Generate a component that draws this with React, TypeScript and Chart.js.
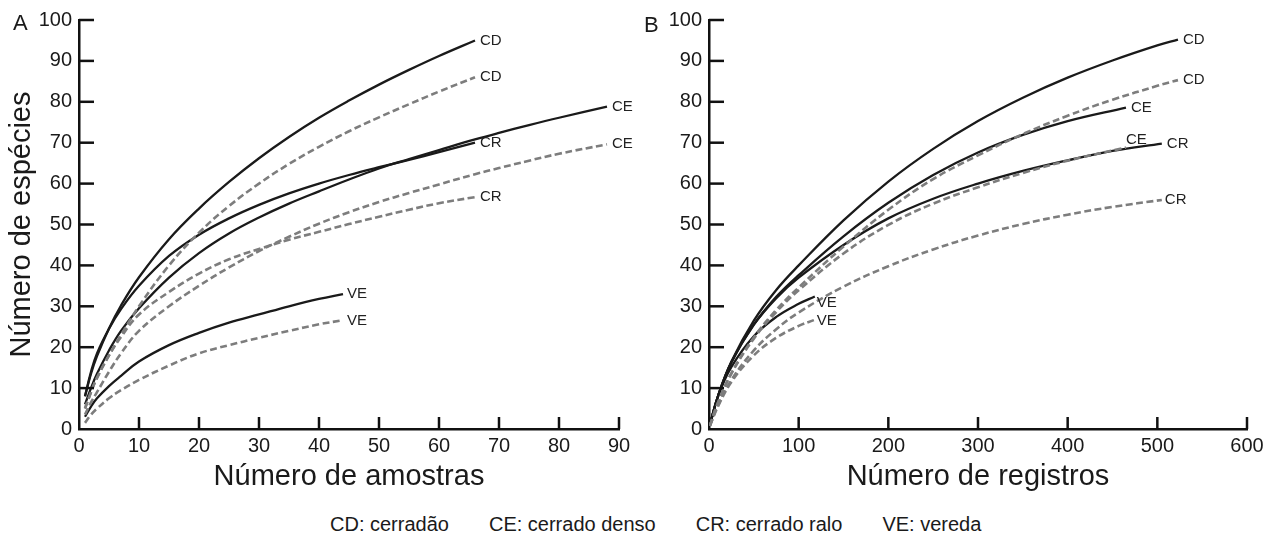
import React, { useEffect, useRef } from "react";
import { Chart, registerables } from "chart.js";

Chart.register(...registerables);

const FONT = '"Liberation Sans", Arial, Helvetica, sans-serif';

// ---------- Panel A: Número de amostras ----------
const aX66 = [1, 2, 3, 5, 7, 10, 15, 20, 25, 30, 35, 40, 45, 50, 55, 60, 66];
const aX88 = [1, 2, 3, 5, 7, 10, 15, 20, 25, 30, 35, 40, 45, 50, 55, 60, 66, 70, 75, 80, 88];
const aX44 = [1, 2, 3, 5, 7, 10, 15, 20, 25, 30, 35, 40, 44];

const aSolidCD = [8, 13.5, 17.8, 24.6, 30.2, 37.1, 46.4, 53.9, 60.4, 66.2, 71.4, 76.1, 80.3, 84.2, 87.8, 91.2, 95];
const aDashCD = [5, 9, 12.5, 18, 23, 30, 40, 48, 54.5, 60, 64.8, 69, 72.8, 76.2, 79.4, 82.5, 86];
const aSolidCR = [8, 14, 18.5, 24.5, 29.3, 35, 42.3, 47.5, 51.5, 54.8, 57.6, 60, 62.1, 64, 65.8, 67.7, 70];
const aDashCR = [5, 9, 12.5, 18, 22.5, 28, 33.5, 38, 41.5, 44, 46.3, 48.2, 50.1, 51.9, 53.6, 55.2, 56.7];
const aSolidCE = [6, 10, 13.5, 19.2, 24, 29.5, 37, 43, 47.8, 51.7, 55.1, 58.1, 61, 63.7, 66, 68.2, 70.8, 72.4, 74.3, 76.1, 78.8];
const aDashCE = [3.5, 6.5, 9, 14, 18.5, 24, 30, 35, 39.5, 43.5, 47, 50.2, 53, 55.5, 57.7, 59.8, 62.3, 63.8, 65.6, 67.3, 69.6];
const aSolidVE = [3, 5.5, 7.5, 10.5, 13, 16.5, 20.5, 23.5, 26, 28, 30, 31.8, 33];
const aDashVE = [1.5, 3.5, 5, 7.5, 9.5, 12, 15.5, 18.5, 20.5, 22.3, 24, 25.6, 26.6];

// ---------- Panel B: Número de registros ----------
const bX523 = [1, 10, 25, 50, 75, 100, 150, 200, 250, 300, 350, 400, 450, 500, 523];
const bX465 = [1, 10, 25, 50, 75, 100, 150, 200, 250, 300, 350, 400, 465];
const bX505 = [1, 10, 25, 50, 75, 100, 150, 200, 250, 300, 350, 400, 450, 505];
const bX118 = [1, 10, 25, 50, 75, 100, 118];

const bSolidCD = [1, 8, 16.5, 26.5, 34, 40, 51, 60.5, 68.5, 75.3, 81, 85.9, 90.1, 93.8, 95.2];
const bDashCD = [0.8, 6.4, 13.6, 22.4, 29.1, 34.6, 44.6, 53.6, 61.1, 66.9, 72.1, 76.6, 80.5, 83.9, 85.3];
const bSolidCE = [1, 8, 16.3, 25.5, 32.3, 37.6, 47.1, 55.3, 62.1, 67.6, 71.9, 75.3, 78.6];
const bDashCE = [0.8, 6.4, 13.6, 22.1, 28.6, 33.9, 42.9, 49.9, 55.1, 59.1, 62.6, 65.6, 68.8];
const bSolidCR = [1, 8, 16.3, 25.5, 32, 37, 45, 51.5, 56.3, 60, 63.1, 65.7, 68, 69.8];
const bDashCR = [0.8, 5.8, 12, 19.2, 24.4, 28.5, 34.8, 39.8, 43.9, 47.3, 50.1, 52.4, 54.3, 56];
const bSolidVE = [1, 8, 15.2, 22.7, 27.4, 30.6, 32.4];
const bDashVE = [0.8, 5.5, 11.5, 18, 22.3, 25.2, 26.7];

const yTicksMax = 100;
const legendItems = ["CD: cerradão", "CE: cerrado denso", "CR: cerrado ralo", "VE: vereda"];

const SOLID = "#1a1a1a";
const DASH = "#7d7d7d";

function series(xs: number[], ys: number[], dashed: boolean, label: string, dx = 5, dy = 0) {
  return {
    label,
    data: xs.map((x, i) => ({ x, y: ys[i] })),
    borderColor: dashed ? DASH : SOLID,
    borderWidth: dashed ? 2.6 : 2.3,
    borderDash: dashed ? [7, 3.5] : [],
    pointRadius: 0,
    fill: false,
    tension: 0.4,
    endLabel: label,
    labelDx: dx,
    labelDy: dy,
  };
}

const endLabels = {
  id: "endLabels",
  afterDatasetsDraw(chart: any) {
    const ctx = chart.ctx;
    ctx.save();
    ctx.font = `15px ${FONT}`;
    ctx.fillStyle = "#222";
    ctx.textBaseline = "middle";
    ctx.textAlign = "left";
    chart.data.datasets.forEach((ds: any, i: number) => {
      const meta = chart.getDatasetMeta(i);
      const pt = meta.data[meta.data.length - 1];
      if (!pt) return;
      ctx.fillText(ds.endLabel, pt.x + ds.labelDx, pt.y + ds.labelDy);
    });
    ctx.restore();
  },
};

const innerTicks = {
  id: "innerTicks",
  afterDraw(chart: any) {
    const { ctx, chartArea, scales } = chart;
    const x = scales.x;
    const y = scales.y;
    ctx.save();
    ctx.strokeStyle = "#111";
    ctx.lineWidth = 2.5;
    y.ticks.forEach((t: any) => {
      if (t.value === 0) return;
      const py = y.getPixelForValue(t.value);
      ctx.beginPath();
      ctx.moveTo(chartArea.left, py);
      ctx.lineTo(chartArea.left + 15, py);
      ctx.stroke();
    });
    x.ticks.forEach((t: any) => {
      if (t.value === 0) return;
      const px = x.getPixelForValue(t.value);
      ctx.beginPath();
      ctx.moveTo(px, chartArea.bottom);
      ctx.lineTo(px, chartArea.bottom - 12);
      ctx.stroke();
    });
    ctx.restore();
  },
};

function makeConfig(datasets: any[], xMax: number, xStep: number, xTitle: string, yTitle: string | null, yWidth: number, padRight: number) {
  return {
    type: "line",
    data: { datasets },
    options: {
      animation: false,
      responsive: false,
      devicePixelRatio: 1,
      layout: { padding: { top: 20, right: padRight, bottom: 0, left: 0 } },
      plugins: { legend: { display: false }, tooltip: { enabled: false } },
      scales: {
        x: {
          type: "linear",
          min: 0,
          max: xMax,
          ticks: { stepSize: xStep, color: "#1a1a1a", font: { size: 20, family: FONT }, padding: 5, maxRotation: 0 },
          grid: { display: true, drawOnChartArea: false, drawTicks: false },
          border: { display: true, color: "#111", width: 2.5 },
          title: { display: true, text: xTitle, color: "#1a1a1a", font: { size: 29, family: FONT }, padding: { top: 0, bottom: 6 } },
          afterFit: (s: any) => {
            s.height = 71;
          },
        },
        y: {
          type: "linear",
          min: 0,
          max: yTicksMax,
          ticks: { stepSize: 10, color: "#1a1a1a", font: { size: 20, family: FONT }, padding: 7 },
          grid: { display: true, drawOnChartArea: false, drawTicks: false },
          border: { display: true, color: "#111", width: 2.5 },
          title: { display: !!yTitle, text: yTitle || "", color: "#1a1a1a", font: { size: 29, family: FONT }, padding: { top: 5, bottom: 0 } },
          afterFit: (s: any) => {
            s.width = yWidth;
          },
        },
      },
    },
    plugins: [innerTicks, endLabels],
  };
}

export default function App() {
  const leftRef = useRef<HTMLCanvasElement>(null);
  const rightRef = useRef<HTMLCanvasElement>(null);

  useEffect(() => {
    const leftSets = [
      series(aX66, aDashCD, true, "CD"),
      series(aX88, aDashCE, true, "CE"),
      series(aX66, aDashCR, true, "CR"),
      series(aX44, aDashVE, true, "VE", 4, 1),
      series(aX66, aSolidCD, false, "CD"),
      series(aX88, aSolidCE, false, "CE"),
      series(aX66, aSolidCR, false, "CR"),
      series(aX44, aSolidVE, false, "VE", 4, 0),
    ];
    const rightSets = [
      series(bX523, bDashCD, true, "CD"),
      series(bX465, bDashCE, true, "CE", 0, -8),
      series(bX505, bDashCR, true, "CR", 3, 0),
      series(bX118, bDashVE, true, "VE", 2, 1),
      series(bX523, bSolidCD, false, "CD"),
      series(bX465, bSolidCE, false, "CE"),
      series(bX505, bSolidCR, false, "CR"),
      series(bX118, bSolidVE, false, "VE", 2, 6),
    ];
    const c1 = new Chart(leftRef.current as any, makeConfig(leftSets, 90, 10, "Número de amostras", "Número de espécies", 79, 21) as any);
    const c2 = new Chart(rightRef.current as any, makeConfig(rightSets, 600, 100, "Número de registros", null, 69, 27) as any);
    return () => {
      c1.destroy();
      c2.destroy();
    };
  }, []);

  return (
    <div style={{ position: "absolute", left: 0, top: 0, width: 1274, height: 544, background: "#fff", fontFamily: FONT, color: "#1a1a1a" }}>
      <canvas ref={leftRef} width={640} height={500} style={{ position: "absolute", left: 0, top: 0, width: 640, height: 500 }} />
      <canvas ref={rightRef} width={634} height={500} style={{ position: "absolute", left: 640, top: 0, width: 634, height: 500 }} />
      <div style={{ position: "absolute", left: 13, top: 12, fontSize: 22, lineHeight: "22px" }}>A</div>
      <div style={{ position: "absolute", left: 644, top: 14, fontSize: 22, lineHeight: "22px" }}>B</div>
      <div style={{ position: "absolute", left: 330, top: 514, fontSize: 20, lineHeight: "20px", display: "flex", gap: 40, whiteSpace: "pre" }}>
        {legendItems.map((t) => (
          <span key={t}>{t}</span>
        ))}
      </div>
    </div>
  );
}
